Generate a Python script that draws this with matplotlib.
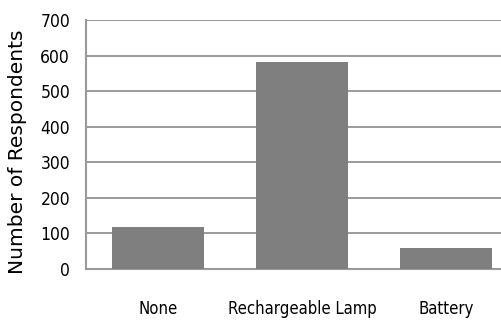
import matplotlib
matplotlib.use("Agg")
import matplotlib.pyplot as plt

categories = ["None", "Rechargeable Lamp", "Battery"]
respondents = [118, 582, 60]
yticks = [0, 100, 200, 300, 400, 500, 600, 700]

fig = plt.figure(figsize=(5.02, 3.2), dpi=100)
# plot area runs past the right edge of the figure
ax = fig.add_axes([86 / 502, 51 / 320, 432 / 502, 249 / 320])

grey = "#808080"
ax.bar(range(len(categories)), respondents, width=0.645, color="#7f7f7f", zorder=3)

ax.set_xlim(-0.5, 2.5)
ax.set_ylim(0, 700)
ax.set_yticks(yticks)
ax.set_yticklabels([str(v) for v in yticks],
                   fontdict=dict(family="DejaVu Sans", stretch="condensed", size=12.5))
ax.set_xticks(range(len(categories)))
ax.set_xticklabels(categories,
                   fontdict=dict(family="DejaVu Sans", stretch="condensed", size=12))
ax.tick_params(axis="both", length=0)
ax.tick_params(axis="y", pad=11.5)
ax.tick_params(axis="x", pad=22)

ax.yaxis.grid(True, color=grey, linewidth=1.1, zorder=0)
for side in ["top", "right"]:
    ax.spines[side].set_visible(False)
for side in ["left", "bottom"]:
    ax.spines[side].set_color("#9a9a9a")
    ax.spines[side].set_linewidth(1.5)

ax.set_ylabel("Number of Respondents", fontsize=14.5)
ax.yaxis.set_label_coords(27 / 502, 1 - 152 / 320, transform=fig.transFigure)

fig.savefig("out.png", dpi=100)
